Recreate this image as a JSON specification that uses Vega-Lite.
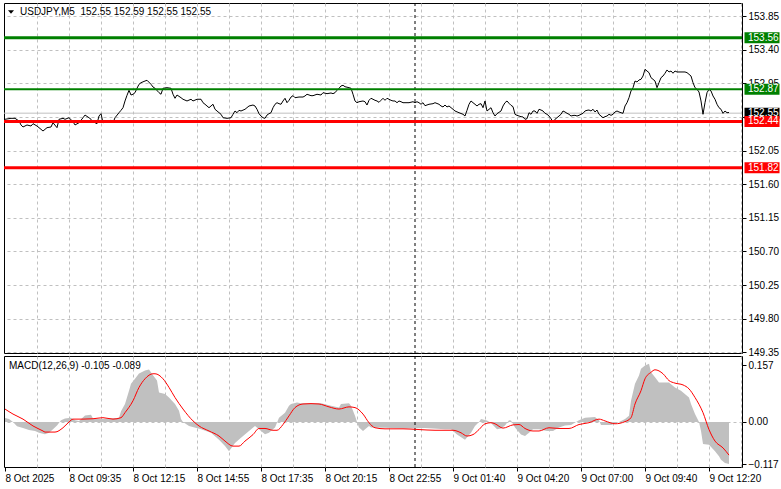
{
"$schema": "https://vega.github.io/schema/vega-lite/v6.json",
"background": "#ffffff",
"padding": {"left": 2, "top": 2, "right": 0, "bottom": 0},
"bounds": "flush",
"spacing": 3,
"config": {
  "view": {"stroke": "#000000", "strokeWidth": 1},
  "font": "Liberation Sans",
  "axis": {"labelFont": "Liberation Sans", "labelFontSize": 10, "labelColor": "#000000", "tickColor": "#000000", "labelFlush": false, "labelOverlap": false, "labelBound": false, "title": null}
},
"datasets": {
  "price": [
{"i":0,"p":152.468},{"i":3,"p":152.481},{"i":5,"p":152.481},{"i":7,"p":152.445},{"i":8,"p":152.392},{"i":9,"p":152.365},{"i":11,"p":152.392},{"i":13,"p":152.378},{"i":14,"p":152.409},{"i":16,"p":152.378},{"i":18,"p":152.334},{"i":19,"p":152.311},{"i":21,"p":152.356},{"i":23,"p":152.365},{"i":24,"p":152.422},{"i":26,"p":152.356},{"i":27,"p":152.468},{"i":29,"p":152.481},{"i":30,"p":152.468},{"i":32,"p":152.489},{"i":34,"p":152.436},{"i":35,"p":152.392},{"i":37,"p":152.422},{"i":39,"p":152.489},{"i":40,"p":152.525},{"i":42,"p":152.489},{"i":43,"p":152.468},{"i":44,"p":152.436},{"i":46,"p":152.409},{"i":47,"p":152.512},{"i":48,"p":152.543},{"i":49,"p":152.422},{"i":51,"p":152.436},{"i":53,"p":152.455},{"i":54,"p":152.422},{"i":55,"p":152.489},{"i":57,"p":152.556},{"i":58,"p":152.588},{"i":59,"p":152.623},{"i":60,"p":152.713},{"i":61,"p":152.789},{"i":62,"p":152.856},{"i":63,"p":152.793},{"i":64,"p":152.803},{"i":65,"p":152.824},{"i":66,"p":152.883},{"i":67,"p":152.936},{"i":68,"p":152.958},{"i":70,"p":152.98},{"i":71,"p":152.99},{"i":73,"p":152.936},{"i":74,"p":152.9},{"i":75,"p":152.883},{"i":77,"p":152.824},{"i":78,"p":152.803},{"i":79,"p":152.883},{"i":81,"p":152.891},{"i":83,"p":152.883},{"i":84,"p":152.803},{"i":85,"p":152.749},{"i":86,"p":152.793},{"i":88,"p":152.757},{"i":89,"p":152.736},{"i":91,"p":152.713},{"i":93,"p":152.736},{"i":94,"p":152.713},{"i":96,"p":152.736},{"i":98,"p":152.736},{"i":99,"p":152.69},{"i":100,"p":152.669},{"i":102,"p":152.623},{"i":103,"p":152.646},{"i":104,"p":152.669},{"i":105,"p":152.602},{"i":106,"p":152.579},{"i":108,"p":152.535},{"i":109,"p":152.489},{"i":111,"p":152.481},{"i":113,"p":152.489},{"i":114,"p":152.535},{"i":115,"p":152.579},{"i":116,"p":152.556},{"i":117,"p":152.588},{"i":118,"p":152.579},{"i":120,"p":152.602},{"i":122,"p":152.646},{"i":124,"p":152.659},{"i":125,"p":152.646},{"i":126,"p":152.602},{"i":127,"p":152.543},{"i":128,"p":152.512},{"i":129,"p":152.489},{"i":130,"p":152.481},{"i":131,"p":152.525},{"i":132,"p":152.543},{"i":133,"p":152.556},{"i":134,"p":152.623},{"i":135,"p":152.669},{"i":136,"p":152.69},{"i":137,"p":152.677},{"i":138,"p":152.669},{"i":139,"p":152.713},{"i":140,"p":152.749},{"i":141,"p":152.69},{"i":142,"p":152.722},{"i":143,"p":152.766},{"i":144,"p":152.784},{"i":145,"p":152.757},{"i":147,"p":152.766},{"i":149,"p":152.766},{"i":150,"p":152.78},{"i":151,"p":152.803},{"i":153,"p":152.784},{"i":154,"p":152.784},{"i":156,"p":152.803},{"i":158,"p":152.793},{"i":159,"p":152.824},{"i":161,"p":152.811},{"i":163,"p":152.82},{"i":164,"p":152.811},{"i":165,"p":152.824},{"i":166,"p":152.856},{"i":167,"p":152.883},{"i":168,"p":152.914},{"i":169,"p":152.923},{"i":170,"p":152.904},{"i":172,"p":152.891},{"i":173,"p":152.883},{"i":174,"p":152.803},{"i":175,"p":152.713},{"i":176,"p":152.69},{"i":177,"p":152.703},{"i":179,"p":152.713},{"i":180,"p":152.703},{"i":181,"p":152.659},{"i":182,"p":152.722},{"i":183,"p":152.749},{"i":184,"p":152.736},{"i":185,"p":152.722},{"i":186,"p":152.713},{"i":187,"p":152.695},{"i":188,"p":152.722},{"i":189,"p":152.749},{"i":190,"p":152.722},{"i":191,"p":152.749},{"i":192,"p":152.736},{"i":193,"p":152.722},{"i":194,"p":152.713},{"i":195,"p":152.713},{"i":196,"p":152.69},{"i":197,"p":152.713},{"i":198,"p":152.703},{"i":199,"p":152.69},{"i":200,"p":152.69},{"i":202,"p":152.69},{"i":204,"p":152.703},{"i":205,"p":152.69},{"i":206,"p":152.703},{"i":207,"p":152.69},{"i":208,"p":152.669},{"i":209,"p":152.69},{"i":210,"p":152.65},{"i":212,"p":152.669},{"i":214,"p":152.677},{"i":215,"p":152.69},{"i":217,"p":152.669},{"i":218,"p":152.646},{"i":219,"p":152.633},{"i":220,"p":152.659},{"i":221,"p":152.633},{"i":222,"p":152.646},{"i":224,"p":152.602},{"i":225,"p":152.579},{"i":227,"p":152.556},{"i":229,"p":152.535},{"i":230,"p":152.512},{"i":231,"p":152.588},{"i":232,"p":152.669},{"i":233,"p":152.713},{"i":234,"p":152.69},{"i":235,"p":152.669},{"i":236,"p":152.646},{"i":237,"p":152.669},{"i":238,"p":152.677},{"i":239,"p":152.623},{"i":240,"p":152.713},{"i":241,"p":152.579},{"i":243,"p":152.623},{"i":244,"p":152.556},{"i":245,"p":152.512},{"i":246,"p":152.543},{"i":248,"p":152.579},{"i":249,"p":152.646},{"i":250,"p":152.69},{"i":251,"p":152.713},{"i":252,"p":152.682},{"i":253,"p":152.655},{"i":254,"p":152.637},{"i":255,"p":152.535},{"i":256,"p":152.521},{"i":257,"p":152.512},{"i":258,"p":152.503},{"i":259,"p":152.499},{"i":260,"p":152.468},{"i":261,"p":152.476},{"i":262,"p":152.556},{"i":263,"p":152.535},{"i":264,"p":152.579},{"i":265,"p":152.579},{"i":266,"p":152.548},{"i":267,"p":152.602},{"i":268,"p":152.592},{"i":269,"p":152.579},{"i":270,"p":152.548},{"i":271,"p":152.535},{"i":272,"p":152.512},{"i":273,"p":152.476},{"i":274,"p":152.432},{"i":275,"p":152.468},{"i":276,"p":152.489},{"i":277,"p":152.512},{"i":278,"p":152.535},{"i":279,"p":152.579},{"i":280,"p":152.566},{"i":281,"p":152.548},{"i":282,"p":152.535},{"i":283,"p":152.512},{"i":284,"p":152.519},{"i":285,"p":152.521},{"i":286,"p":152.512},{"i":287,"p":152.521},{"i":288,"p":152.535},{"i":289,"p":152.548},{"i":290,"p":152.579},{"i":291,"p":152.588},{"i":292,"p":152.592},{"i":293,"p":152.579},{"i":294,"p":152.602},{"i":295,"p":152.566},{"i":296,"p":152.592},{"i":297,"p":152.535},{"i":298,"p":152.512},{"i":299,"p":152.489},{"i":300,"p":152.503},{"i":301,"p":152.512},{"i":302,"p":152.535},{"i":303,"p":152.521},{"i":304,"p":152.535},{"i":305,"p":152.566},{"i":306,"p":152.579},{"i":307,"p":152.566},{"i":308,"p":152.556},{"i":309,"p":152.548},{"i":310,"p":152.646},{"i":311,"p":152.69},{"i":312,"p":152.757},{"i":313,"p":152.847},{"i":314,"p":152.891},{"i":315,"p":152.98},{"i":316,"p":152.967},{"i":317,"p":152.994},{"i":318,"p":153.003},{"i":319,"p":153.047},{"i":320,"p":153.137},{"i":321,"p":153.114},{"i":322,"p":153.092},{"i":323,"p":153.025},{"i":324,"p":153.003},{"i":325,"p":152.98},{"i":326,"p":152.891},{"i":327,"p":152.958},{"i":328,"p":153.025},{"i":329,"p":153.047},{"i":330,"p":153.084},{"i":331,"p":153.128},{"i":332,"p":153.101},{"i":333,"p":153.114},{"i":334,"p":153.084},{"i":335,"p":153.114},{"i":336,"p":153.101},{"i":337,"p":153.101},{"i":339,"p":153.101},{"i":340,"p":153.101},{"i":341,"p":153.092},{"i":342,"p":153.07},{"i":343,"p":153.047},{"i":344,"p":152.958},{"i":345,"p":152.891},{"i":346,"p":152.869},{"i":347,"p":152.833},{"i":348,"p":152.713},{"i":349,"p":152.535},{"i":350,"p":152.69},{"i":351,"p":152.824},{"i":352,"p":152.869},{"i":353,"p":152.847},{"i":354,"p":152.78},{"i":355,"p":152.736},{"i":356,"p":152.669},{"i":357,"p":152.623},{"i":358,"p":152.602},{"i":359,"p":152.548},{"i":360,"p":152.579},{"i":361,"p":152.556},{"i":362,"p":152.559}
  ],
  "hist": [
{"i":0,"v":0.011},{"i":2,"v":0.008},{"i":4,"v":0},{"i":6,"v":-0.012},{"i":9,"v":-0.017},{"i":12,"v":-0.022},{"i":15,"v":-0.025},{"i":17,"v":-0.03},{"i":20,"v":-0.034},{"i":22,"v":-0.03},{"i":24,"v":-0.02},{"i":26,"v":-0.01},{"i":28,"v":0.005},{"i":30,"v":0.01},{"i":33,"v":0.012},{"i":35,"v":0.005},{"i":37,"v":0.003},{"i":40,"v":0.018},{"i":43,"v":0.02},{"i":44,"v":0.01},{"i":48,"v":0.008},{"i":53,"v":0.01},{"i":57,"v":0.012},{"i":58,"v":0.03},{"i":60,"v":0.05},{"i":62,"v":0.087},{"i":63,"v":0.106},{"i":65,"v":0.12},{"i":67,"v":0.135},{"i":70,"v":0.143},{"i":72,"v":0.146},{"i":74,"v":0.13},{"i":76,"v":0.115},{"i":77,"v":0.082},{"i":80,"v":0.078},{"i":82,"v":0.068},{"i":85,"v":0.05},{"i":87,"v":0.031},{"i":88,"v":0.008},{"i":89,"v":0},{"i":92,"v":-0.011},{"i":98,"v":-0.02},{"i":103,"v":-0.03},{"i":107,"v":-0.049},{"i":110,"v":-0.067},{"i":112,"v":-0.081},{"i":115,"v":-0.058},{"i":118,"v":-0.044},{"i":122,"v":-0.025},{"i":125,"v":-0.011},{"i":127,"v":-0.02},{"i":130,"v":-0.034},{"i":132,"v":-0.03},{"i":135,"v":-0.015},{"i":137,"v":0.012},{"i":140,"v":0.026},{"i":142,"v":0.045},{"i":143,"v":0.05},{"i":146,"v":0.054},{"i":148,"v":0.052},{"i":158,"v":0.052},{"i":163,"v":0.045},{"i":167,"v":0.04},{"i":168,"v":0.05},{"i":172,"v":0.052},{"i":173,"v":0.045},{"i":175,"v":0.017},{"i":176,"v":0},{"i":177,"v":-0.015},{"i":179,"v":-0.025},{"i":182,"v":-0.011},{"i":183,"v":-0.015},{"i":190,"v":-0.016},{"i":200,"v":-0.018},{"i":210,"v":-0.017},{"i":220,"v":-0.02},{"i":223,"v":-0.02},{"i":226,"v":-0.035},{"i":230,"v":-0.049},{"i":233,"v":-0.03},{"i":235,"v":-0.011},{"i":237,"v":0},{"i":238,"v":0.008},{"i":241,"v":0.004},{"i":243,"v":-0.003},{"i":246,"v":-0.02},{"i":248,"v":-0.018},{"i":250,"v":-0.01},{"i":252,"v":0.005},{"i":253,"v":0.004},{"i":255,"v":-0.015},{"i":258,"v":-0.035},{"i":260,"v":-0.039},{"i":262,"v":-0.03},{"i":264,"v":-0.02},{"i":267,"v":-0.02},{"i":271,"v":-0.025},{"i":274,"v":-0.025},{"i":277,"v":-0.015},{"i":280,"v":-0.01},{"i":283,"v":-0.008},{"i":287,"v":0.005},{"i":290,"v":0.012},{"i":295,"v":0.014},{"i":297,"v":0.005},{"i":298,"v":-0.008},{"i":303,"v":-0.008},{"i":305,"v":-0.005},{"i":307,"v":0},{"i":310,"v":0.008},{"i":312,"v":0.017},{"i":313,"v":0.059},{"i":315,"v":0.106},{"i":317,"v":0.129},{"i":318,"v":0.148},{"i":320,"v":0.157},{"i":322,"v":0.162},{"i":323,"v":0.138},{"i":325,"v":0.124},{"i":327,"v":0.11},{"i":332,"v":0.11},{"i":333,"v":0.105},{"i":335,"v":0.096},{"i":338,"v":0.087},{"i":342,"v":0.068},{"i":343,"v":0.05},{"i":345,"v":0.022},{"i":347,"v":0},{"i":348,"v":-0.025},{"i":349,"v":-0.061},{"i":352,"v":-0.063},{"i":355,"v":-0.081},{"i":357,"v":-0.095},{"i":358,"v":-0.105},{"i":360,"v":-0.114},{"i":362,"v":-0.117}
  ],
  "signal": [
{"i":0,"v":0.036},{"i":4,"v":0.022},{"i":9,"v":0.008},{"i":14,"v":-0.011},{"i":19,"v":-0.025},{"i":20,"v":-0.028},{"i":25,"v":-0.028},{"i":29,"v":-0.016},{"i":32,"v":0},{"i":34,"v":0.008},{"i":39,"v":0.008},{"i":44,"v":0.009},{"i":49,"v":0.012},{"i":54,"v":0.008},{"i":58,"v":0.012},{"i":60,"v":0.026},{"i":64,"v":0.059},{"i":67,"v":0.096},{"i":70,"v":0.12},{"i":74,"v":0.134},{"i":75,"v":0.134},{"i":79,"v":0.12},{"i":82,"v":0.096},{"i":85,"v":0.068},{"i":89,"v":0.036},{"i":94,"v":0.003},{"i":97,"v":-0.011},{"i":102,"v":-0.025},{"i":107,"v":-0.039},{"i":110,"v":-0.053},{"i":114,"v":-0.067},{"i":117,"v":-0.067},{"i":120,"v":-0.053},{"i":124,"v":-0.035},{"i":127,"v":-0.018},{"i":130,"v":-0.018},{"i":134,"v":-0.023},{"i":136,"v":-0.023},{"i":139,"v":-0.007},{"i":142,"v":0.017},{"i":145,"v":0.04},{"i":149,"v":0.05},{"i":153,"v":0.051},{"i":157,"v":0.05},{"i":162,"v":0.042},{"i":167,"v":0.036},{"i":172,"v":0.042},{"i":175,"v":0.04},{"i":179,"v":0.022},{"i":182,"v":-0.002},{"i":185,"v":-0.016},{"i":190,"v":-0.019},{"i":199,"v":-0.019},{"i":207,"v":-0.021},{"i":215,"v":-0.023},{"i":224,"v":-0.023},{"i":228,"v":-0.03},{"i":231,"v":-0.039},{"i":234,"v":-0.035},{"i":237,"v":-0.021},{"i":240,"v":-0.005},{"i":243,"v":-0.002},{"i":245,"v":-0.005},{"i":249,"v":-0.017},{"i":254,"v":-0.008},{"i":257,"v":-0.007},{"i":260,"v":-0.018},{"i":264,"v":-0.025},{"i":267,"v":-0.025},{"i":272,"v":-0.016},{"i":277,"v":-0.018},{"i":282,"v":-0.018},{"i":287,"v":-0.007},{"i":292,"v":-0.002},{"i":297,"v":0.008},{"i":300,"v":0.003},{"i":305,"v":-0.005},{"i":310,"v":0.001},{"i":313,"v":0.012},{"i":315,"v":0.05},{"i":318,"v":0.087},{"i":320,"v":0.12},{"i":323,"v":0.138},{"i":325,"v":0.145},{"i":329,"v":0.134},{"i":332,"v":0.115},{"i":335,"v":0.108},{"i":339,"v":0.103},{"i":342,"v":0.092},{"i":345,"v":0.068},{"i":349,"v":0.026},{"i":352,"v":-0.021},{"i":355,"v":-0.053},{"i":359,"v":-0.072},{"i":362,"v":-0.092}
  ],
  "levels": [
    {"level": 153.56, "side": "buy"},
    {"level": 152.87, "side": "buy"},
    {"level": 152.44, "side": "sell"},
    {"level": 151.82, "side": "sell"}
  ],
  "quote": [{"bid": 152.55}],
  "separators": [{"i": 205}],
  "marker": [{"i": 3, "p": 153.904}]
},
"vconcat": [
  {
    "width": 738,
    "height": 350,
    "title": {"text": "USDJPY,M5\u00a0 152.55 152.59 152.55 152.55", "anchor": "start", "frame": "group", "offset": -14, "dx": 16, "fontSize": 10, "fontWeight": "normal", "font": "Liberation Sans", "color": "#000000"},
    "layer": [
      {
        "data": {"name": "quote"},
        "mark": {"type": "rule", "color": "#c0c0c0", "strokeWidth": 1},
        "encoding": {"y": {"field": "bid", "type": "quantitative", "scale": {"domain": [149.341, 154.024], "nice": false, "zero": false},
                "axis": {"orient": "right", "values": [149.35, 149.8, 150.25, 150.7, 151.15, 151.6, 152.05, 152.5, 152.95, 153.4, 153.85], "tickCount": 200, "format": ".2f", "grid": true, "gridColor": "#c0c0c0", "gridDash": [3, 3], "gridWidth": 1, "domain": false, "ticks": true, "tickSize": 4, "labelPadding": 2, "labelOverlap": false, "labelBound": false, "labelFlush": false, "title": null}}}
      },
      {
        "data": {"name": "separators"},
        "mark": {"type": "rule", "color": "#000000", "strokeWidth": 1, "strokeDash": [3, 3]},
        "encoding": {"x": {"field": "i", "type": "quantitative", "scale": {"domain": [-0.5, 368.5], "nice": false, "zero": false},
                "axis": {"orient": "bottom", "values": [16,32,48,64,80,96,112,128,144,160,176,192,208,224,240,256,272,288,304,320,336,352,368], "tickCount": 200, "grid": true, "gridColor": "#c0c0c0", "gridDash": [3, 3], "gridWidth": 1, "labels": false, "ticks": false, "domain": false, "title": null}}}
      },
      {
        "data": {"name": "price"},
        "mark": {"type": "line", "color": "#000000", "strokeWidth": 1},
        "encoding": {
          "x": {"field": "i", "type": "quantitative", "scale": {"domain": [-0.5, 368.5], "nice": false, "zero": false}, "axis": {"title": null}},
          "y": {"field": "p", "type": "quantitative", "scale": {"domain": [149.341, 154.024], "nice": false, "zero": false}, "axis": {"title": null}}
        }
      },
      {
        "data": {"name": "levels"},
        "mark": {"type": "rule"},
        "encoding": {
          "y": {"field": "level", "type": "quantitative", "scale": {"domain": [149.341, 154.024], "nice": false, "zero": false}, "axis": {"title": null}},
          "color": {"field": "side", "type": "nominal", "scale": {"domain": ["buy", "sell"], "range": ["#008000", "#ff0000"]}, "legend": null},
          "strokeWidth": {"condition": {"test": "datum.level === 152.87", "value": 2}, "value": 3}
        }
      },
      {
        "data": {"name": "marker"},
        "mark": {"type": "point", "shape": "M-1,-0.55L1,-0.55L0,0.6Z", "filled": true, "color": "#000000", "size": 36, "opacity": 1},
        "encoding": {
          "x": {"field": "i", "type": "quantitative", "scale": {"domain": [-0.5, 368.5], "nice": false, "zero": false}, "axis": {"title": null}},
          "y": {"field": "p", "type": "quantitative", "scale": {"domain": [149.341, 154.024], "nice": false, "zero": false}, "axis": {"title": null}}
        }
      },
      {
        "data": {"name": "quote"},
        "mark": {"type": "tick", "orient": "horizontal", "size": 35, "thickness": 11, "color": "#000000", "opacity": 1},
        "encoding": {
          "x": {"datum": 378.5, "type": "quantitative", "scale": {"domain": [-0.5, 368.5], "nice": false, "zero": false}, "axis": {"title": null}},
          "y": {"field": "bid", "type": "quantitative", "scale": {"domain": [149.341, 154.024], "nice": false, "zero": false}, "axis": {"title": null}}
        }
      },
      {
        "data": {"name": "quote"},
        "mark": {"type": "text", "align": "left", "baseline": "middle", "color": "#ffffff", "fontSize": 10, "font": "Liberation Sans"},
        "encoding": {
          "x": {"datum": 371.5, "type": "quantitative", "scale": {"domain": [-0.5, 368.5], "nice": false, "zero": false}, "axis": {"title": null}},
          "y": {"field": "bid", "type": "quantitative", "scale": {"domain": [149.341, 154.024], "nice": false, "zero": false}, "axis": {"title": null}},
          "text": {"field": "bid", "type": "quantitative", "format": ".2f"}
        }
      },
      {
        "data": {"name": "levels"},
        "mark": {"type": "tick", "orient": "horizontal", "size": 35, "thickness": 11, "opacity": 1},
        "encoding": {
          "x": {"datum": 378.5, "type": "quantitative", "scale": {"domain": [-0.5, 368.5], "nice": false, "zero": false}, "axis": {"title": null}},
          "y": {"field": "level", "type": "quantitative", "scale": {"domain": [149.341, 154.024], "nice": false, "zero": false}, "axis": {"title": null}},
          "color": {"field": "side", "type": "nominal", "scale": {"domain": ["buy", "sell"], "range": ["#008000", "#ff0000"]}, "legend": null}
        }
      },
      {
        "data": {"name": "levels"},
        "mark": {"type": "text", "align": "left", "baseline": "middle", "color": "#ffffff", "fontSize": 10, "font": "Liberation Sans"},
        "encoding": {
          "x": {"datum": 371.5, "type": "quantitative", "scale": {"domain": [-0.5, 368.5], "nice": false, "zero": false}, "axis": {"title": null}},
          "y": {"field": "level", "type": "quantitative", "scale": {"domain": [149.341, 154.024], "nice": false, "zero": false}, "axis": {"title": null}},
          "text": {"field": "level", "type": "quantitative", "format": ".2f"}
        }
      }
    ]
  },
  {
    "width": 738,
    "height": 111,
    "title": {"text": "MACD(12,26,9) -0.105 -0.089", "anchor": "start", "frame": "group", "offset": -15, "dx": 5, "fontSize": 10, "fontWeight": "normal", "font": "Liberation Sans", "color": "#000000"},
    "layer": [
      {
        "data": {"name": "hist"},
        "mark": {"type": "area", "color": "#c0c0c0", "opacity": 1, "interpolate": "linear"},
        "encoding": {
          "x": {"field": "i", "type": "quantitative", "scale": {"domain": [-0.5, 368.5], "nice": false, "zero": false},
                "axis": {"orient": "bottom", "values": [0,16,32,48,64,80,96,112,128,144,160,176,192,208,224,240,256,272,288,304,320,336,352,368], "tickCount": 200, "grid": true, "gridColor": "#c0c0c0", "gridDash": [3, 3], "gridWidth": 1,
                         "gridOpacity": {"condition": {"test": "datum.value === 0", "value": 0}, "value": 1},
                         "domain": false, "ticks": true, "tickSize": 4,
                         "tickOpacity": {"condition": {"test": "datum.value % 32 === 0", "value": 1}, "value": 0},
                         "labelExpr": "datum.value % 32 === 0 ? ['8 Oct 2025','8 Oct 09:35','8 Oct 12:15','8 Oct 14:55','8 Oct 17:35','8 Oct 20:15','8 Oct 22:55','9 Oct 01:40','9 Oct 04:20','9 Oct 07:00','9 Oct 09:40','9 Oct 12:20'][datum.value / 32] : ''",
                         "labelAlign": "left", "labelBaseline": "top", "labelPadding": 2, "labelOverlap": false, "labelBound": false, "labelFlush": false, "title": null}},
          "y": {"field": "v", "type": "quantitative", "scale": {"domain": [-0.125, 0.1833], "nice": false, "zero": false},
                "axis": {"orient": "right", "values": [0.157, 0, -0.117], "tickCount": 200, "labelExpr": "datum.value === 0 ? '0.00' : format(datum.value, '.3f')", "grid": true, "gridColor": "#c0c0c0", "gridDash": [3, 3], "gridWidth": 1,
                         "gridOpacity": {"condition": {"test": "datum.value === 0", "value": 1}, "value": 0},
                         "domain": false, "ticks": true, "tickSize": 4, "labelPadding": 2, "labelOverlap": false, "title": null}},
          "y2": {"datum": 0}
        }
      },
      {
        "data": {"name": "separators"},
        "mark": {"type": "rule", "color": "#000000", "strokeWidth": 1, "strokeDash": [3, 3]},
        "encoding": {"x": {"field": "i", "type": "quantitative", "scale": {"domain": [-0.5, 368.5], "nice": false, "zero": false}, "axis": {"title": null}}}
      },
      {
        "data": {"name": "signal"},
        "mark": {"type": "line", "color": "#ff0000", "strokeWidth": 1, "interpolate": "monotone"},
        "encoding": {
          "x": {"field": "i", "type": "quantitative", "scale": {"domain": [-0.5, 368.5], "nice": false, "zero": false}, "axis": {"title": null}},
          "y": {"field": "v", "type": "quantitative", "scale": {"domain": [-0.125, 0.1833], "nice": false, "zero": false}, "axis": {"title": null}}
        }
      }
    ]
  }
]
}
